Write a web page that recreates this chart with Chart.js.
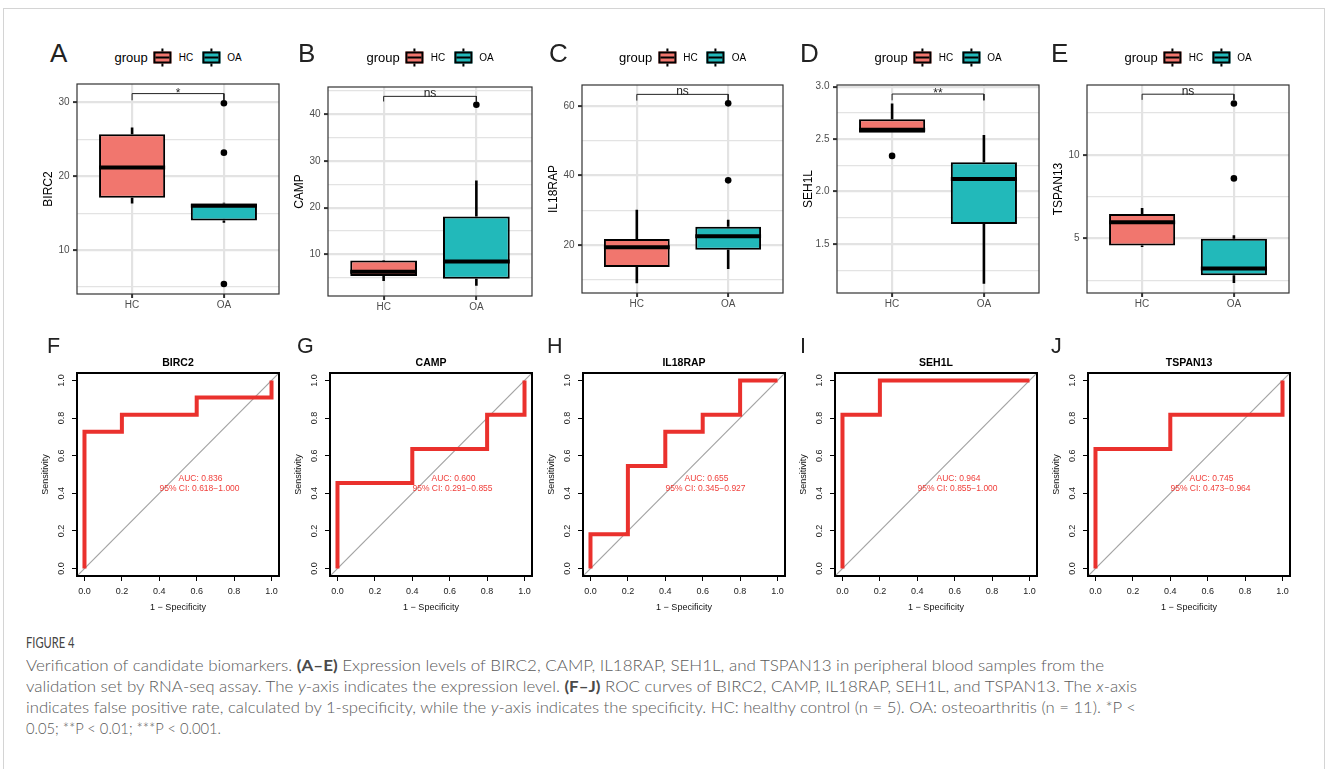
<!DOCTYPE html>
<html>
<head>
<meta charset="utf-8">
<script src="https://cdn.jsdelivr.net/npm/chart.js@4.4.1/dist/chart.umd.min.js"></script>
<style>
html,body{margin:0;padding:0;background:#fff;}
body{width:1328px;height:769px;position:relative;overflow:hidden;font-family:"Liberation Sans",Arial,sans-serif;}
.frame{position:absolute;left:3px;top:8px;width:1322px;height:820px;border:1px solid #d4d4d4;box-sizing:border-box;}
canvas{position:absolute;}
.letter{position:absolute;color:#222;line-height:1;font-family:"Liberation Sans",Arial,sans-serif;}
.legend{position:absolute;display:flex;align-items:center;transform:translate(-50%,-50%);white-space:nowrap;}
.legend .lt{font-size:13px;color:#000;margin-right:6px;}
.legend .ll{font-size:10px;color:#000;}
.key{position:relative;display:inline-block;width:14px;height:8px;border:2px solid #000;}
.key i{position:absolute;left:0;right:0;top:3px;height:2px;background:#000;}
.key:before,.key:after{content:"";position:absolute;left:6px;width:2px;height:3px;background:#000;}
.key:before{top:-5px;}
.key:after{bottom:-5px;}
.cap{position:absolute;left:26px;white-space:nowrap;font-family:Lato,"Open Sans",sans-serif;font-weight:300;color:#5a5a5a;line-height:1;transform-origin:0 0;display:inline-block;}
.cap.head{font-weight:400;color:#444;}
.cap b{font-weight:700;color:#4a4a4a;}
</style>
</head>
<body>
<div class="frame"></div>
<script>
// ---------------- DATA ----------------
const genes = ['BIRC2', 'CAMP', 'IL18RAP', 'SEH1L', 'TSPAN13'];
const groups = ['HC', 'OA'];
const groupPos = [1, 2];
const panelLettersTop = ['A', 'B', 'C', 'D', 'E'];
const panelLettersBottom = ['F', 'G', 'H', 'I', 'J'];

// boxplot stats: [lower whisker, Q1, median, Q3, upper whisker]
const BIRC2_HC = [16.3, 17.1, 21.2, 25.7, 26.6];
const BIRC2_OA = [13.7, 14.0, 16.0, 16.3, 16.4];
const BIRC2_OUT_HC = [];
const BIRC2_OUT_OA = [29.9, 23.2, 5.4];

const CAMP_HC = [4.3, 5.4, 6.3, 8.7, 8.8];
const CAMP_OA = [3.3, 4.8, 8.5, 18.1, 25.8];
const CAMP_OUT_HC = [];
const CAMP_OUT_OA = [42.0];

const IL18RAP_HC = [8.9, 13.6, 19.3, 21.7, 30.1];
const IL18RAP_OA = [13.0, 18.6, 22.5, 25.2, 27.2];
const IL18RAP_OUT_HC = [];
const IL18RAP_OUT_OA = [60.8, 38.6];

const SEH1L_HC = [2.56, 2.56, 2.59, 2.69, 2.84];
const SEH1L_OA = [1.12, 1.69, 2.12, 2.28, 2.54];
const SEH1L_OUT_HC = [2.34];
const SEH1L_OUT_OA = [];

const TSPAN13_HC = [4.49, 4.58, 5.96, 6.46, 6.82];
const TSPAN13_OA = [2.33, 2.79, 3.19, 4.98, 5.18];
const TSPAN13_OUT_HC = [];
const TSPAN13_OUT_OA = [13.07, 8.59];

// significance brackets: [bracket level, HC end, OA end]
const BIRC2_SIG = [31.2, 30.3, 30.3];
const CAMP_SIG = [43.8, 42.7, 42.7];
const IL18RAP_SIG = [63.4, 61.6, 61.6];
const SEH1L_SIG = [2.93, 2.87, 2.87];
const TSPAN13_SIG = [13.63, 13.29, 13.29];
const sigLabels = ['*', 'ns', 'ns', '**', 'ns'];

// y axis ranges and ticks of the boxplots
const BIRC2_YRANGE = [4.05, 32.5];
const CAMP_YRANGE = [1.1, 45.8];
const IL18RAP_YRANGE = [6.1, 66.1];
const SEH1L_YRANGE = [1.033, 3.016];
const TSPAN13_YRANGE = [1.73, 14.18];

const BIRC2_YTICKS = [10, 20, 30];
const CAMP_YTICKS = [10, 20, 30, 40];
const IL18RAP_YTICKS = [20, 40, 60];
const SEH1L_YTICKS = [1.5, 2.0, 2.5, 3.0];
const TSPAN13_YTICKS = [5, 10];

const BIRC2_YLABELS = ['10', '20', '30'];
const CAMP_YLABELS = ['10', '20', '30', '40'];
const IL18RAP_YLABELS = ['20', '40', '60'];
const SEH1L_YLABELS = ['1.5', '2.0', '2.5', '3.0'];
const TSPAN13_YLABELS = ['5', '10'];

const BIRC2_YMINOR = [5, 15, 25];
const CAMP_YMINOR = [5, 15, 25, 35, 45];
const IL18RAP_YMINOR = [10, 30, 50];
const SEH1L_YMINOR = [1.25, 1.75, 2.25, 2.75];
const TSPAN13_YMINOR = [2.5, 7.5, 12.5];

// ROC curves: x = 1 - specificity, y = sensitivity
const BIRC2_FPR = [0, 0, 0.2, 0.2, 0.6, 0.6, 1, 1];
const BIRC2_TPR = [0, 0.727, 0.727, 0.818, 0.818, 0.909, 0.909, 1];
const CAMP_FPR = [0, 0, 0.4, 0.4, 0.8, 0.8, 1, 1];
const CAMP_TPR = [0, 0.455, 0.455, 0.636, 0.636, 0.818, 0.818, 1];
const IL18RAP_FPR = [0, 0, 0.2, 0.2, 0.4, 0.4, 0.6, 0.6, 0.8, 0.8, 1];
const IL18RAP_TPR = [0, 0.182, 0.182, 0.545, 0.545, 0.727, 0.727, 0.818, 0.818, 1, 1];
const SEH1L_FPR = [0, 0, 0.2, 0.2, 1];
const SEH1L_TPR = [0, 0.818, 0.818, 1, 1];
const TSPAN13_FPR = [0, 0, 0.4, 0.4, 1, 1];
const TSPAN13_TPR = [0, 0.636, 0.636, 0.818, 0.818, 1];

const aucValues = ['0.836', '0.600', '0.655', '0.964', '0.745'];
const ciValues = ['0.618\u22121.000', '0.291\u22120.855', '0.345\u22120.927', '0.855\u22121.000', '0.473\u22120.964'];

const ROC_RANGE = [-0.04, 1.04];
const ROC_TICKS = [0, 0.2, 0.4, 0.6, 0.8, 1.0];
const ROC_TICK_LABELS = ['0.0', '0.2', '0.4', '0.6', '0.8', '1.0'];
const BOX_XRANGE = [0.4, 2.6];

// ---------------- STYLE / LAYOUT ----------------
const groupColors = ['#F1766E', '#22B9BA'];
const GRID = '#e3e3e3';
const ROC_RED = '#EA312D';
const BOX_W = 0.72;
const FONT = "'Liberation Sans', Arial, sans-serif";

const boxLayout = [
  {L: 77, T: 84, R: 279, B: 294},
  {L: 328, T: 87, R: 532, B: 296},
  {L: 582, T: 85, R: 783, B: 293},
  {L: 837, T: 85, R: 1039, B: 293},
  {L: 1087, T: 85, R: 1289, B: 293}
];
const rocLayout = [
  {L: 77, R: 279}, {L: 330, R: 532}, {L: 583, R: 785}, {L: 835, R: 1037}, {L: 1088, R: 1290}
];
const ROC_T = 373, ROC_B = 576;
const topLetterX = [50, 298, 549, 800, 1051];
const botLetterX = [47, 297, 547, 800, 1051];

Chart.defaults.font.family = FONT;

const boxData = [
  {hc: BIRC2_HC, oa: BIRC2_OA, outHC: BIRC2_OUT_HC, outOA: BIRC2_OUT_OA, sig: BIRC2_SIG, yr: BIRC2_YRANGE, yt: BIRC2_YTICKS, yl: BIRC2_YLABELS, ym: BIRC2_YMINOR},
  {hc: CAMP_HC, oa: CAMP_OA, outHC: CAMP_OUT_HC, outOA: CAMP_OUT_OA, sig: CAMP_SIG, yr: CAMP_YRANGE, yt: CAMP_YTICKS, yl: CAMP_YLABELS, ym: CAMP_YMINOR},
  {hc: IL18RAP_HC, oa: IL18RAP_OA, outHC: IL18RAP_OUT_HC, outOA: IL18RAP_OUT_OA, sig: IL18RAP_SIG, yr: IL18RAP_YRANGE, yt: IL18RAP_YTICKS, yl: IL18RAP_YLABELS, ym: IL18RAP_YMINOR},
  {hc: SEH1L_HC, oa: SEH1L_OA, outHC: SEH1L_OUT_HC, outOA: SEH1L_OUT_OA, sig: SEH1L_SIG, yr: SEH1L_YRANGE, yt: SEH1L_YTICKS, yl: SEH1L_YLABELS, ym: SEH1L_YMINOR},
  {hc: TSPAN13_HC, oa: TSPAN13_OA, outHC: TSPAN13_OUT_HC, outOA: TSPAN13_OUT_OA, sig: TSPAN13_SIG, yr: TSPAN13_YRANGE, yt: TSPAN13_YTICKS, yl: TSPAN13_YLABELS, ym: TSPAN13_YMINOR}
];
const rocData = [
  {fpr: BIRC2_FPR, tpr: BIRC2_TPR},
  {fpr: CAMP_FPR, tpr: CAMP_TPR},
  {fpr: IL18RAP_FPR, tpr: IL18RAP_TPR},
  {fpr: SEH1L_FPR, tpr: SEH1L_TPR},
  {fpr: TSPAN13_FPR, tpr: TSPAN13_TPR}
];

function addCanvas(left, top, w, h) {
  const cv = document.createElement('canvas');
  cv.width = w; cv.height = h;
  cv.style.left = left + 'px'; cv.style.top = top + 'px';
  cv.style.width = w + 'px'; cv.style.height = h + 'px';
  document.body.appendChild(cv);
  return cv;
}

function addLetter(txt, x, top, size) {
  const d = document.createElement('div');
  d.className = 'letter';
  d.textContent = txt;
  d.style.left = x + 'px'; d.style.top = top + 'px'; d.style.fontSize = size + 'px';
  document.body.appendChild(d);
}

function addLegend(cx, cy) {
  const d = document.createElement('div');
  d.className = 'legend';
  d.style.left = cx + 'px'; d.style.top = cy + 'px';
  let html = '<span class="lt">group</span>';
  groups.forEach((g, i) => {
    html += '<span class="key" style="background:' + groupColors[i] + ';margin-right:7px"><i></i></span>' +
            '<span class="ll" style="margin-right:' + (i === 0 ? 9 : 0) + 'px">' + g + '</span>';
  });
  d.innerHTML = html;
  document.body.appendChild(d);
}

function makeBox(idx) {
  const p = boxData[idx], lay = boxLayout[idx];
  const padL = 52, padT = 14, padR = 8, padB = 26;
  const W = lay.R - lay.L, H = lay.B - lay.T;
  const cv = addCanvas(lay.L - padL, lay.T - padT, W + padL + padR, H + padT + padB);
  const stats = [p.hc, p.oa];
  const half = BOX_W / 2;
  const whisk = [], med = [], outs = [];
  stats.forEach((s, i) => {
    const x = groupPos[i];
    whisk.push({x: x, y: s[3]}, {x: x, y: s[4]}, {x: x, y: null}, {x: x, y: s[1]}, {x: x, y: s[0]}, {x: x, y: null});
    med.push({x: x - half, y: s[2]}, {x: x + half, y: s[2]}, {x: x, y: null});
  });
  p.outHC.forEach(v => outs.push({x: groupPos[0], y: v}));
  p.outOA.forEach(v => outs.push({x: groupPos[1], y: v}));
  const brk = [{x: groupPos[0], y: p.sig[1]}, {x: groupPos[0], y: p.sig[0]}, {x: groupPos[1], y: p.sig[0]}, {x: groupPos[1], y: p.sig[2]}];
  const allTicks = p.yt.map((v, i) => ({value: v, minor: false, lab: p.yl[i]}))
    .concat(p.ym.map(v => ({value: v, minor: true, lab: ''})))
    .sort((a, b) => a.value - b.value);

  new Chart(cv, {
    type: 'bar',
    data: {
      datasets: [
        {type: 'bar', data: stats.map((s, i) => ({x: groupPos[i], y: [s[1], s[3]]})),
         backgroundColor: groupColors, borderColor: '#000', borderWidth: 2, borderSkipped: false,
         barPercentage: BOX_W, categoryPercentage: 1, order: 2},
        {type: 'line', data: whisk, borderColor: '#000', borderWidth: 2.6, pointRadius: 0, spanGaps: false, order: 3, borderCapStyle: 'butt'},
        {type: 'line', data: med, borderColor: '#000', borderWidth: 4, pointRadius: 0, spanGaps: false, order: 1, borderCapStyle: 'butt'},
        {type: 'scatter', data: outs, backgroundColor: '#000', borderWidth: 0, pointRadius: 3.3, order: 0},
        {type: 'line', data: brk, borderColor: '#222', borderWidth: 1, pointRadius: 0, order: 0, borderJoinStyle: 'miter'}
      ]
    },
    options: {
      responsive: false, animation: false, devicePixelRatio: 1, events: [],
      layout: {padding: {left: 0, top: padT, right: padR, bottom: 0}},
      plugins: {legend: {display: false}, tooltip: {enabled: false}},
      scales: {
        x: {
          type: 'linear', min: BOX_XRANGE[0], max: BOX_XRANGE[1], offset: false,
          afterBuildTicks: s => { s.ticks = groupPos.map(v => ({value: v})); },
          afterFit: s => { s.height = padB; },
          ticks: {callback: (v, i) => groups[i], color: '#4d4d4d', font: {size: 10}, padding: 1, autoSkip: false, maxRotation: 0},
          grid: {offset: false, color: GRID, lineWidth: 2.2, tickColor: '#333', tickWidth: 2, tickLength: 4},
          border: {display: false}
        },
        y: {
          type: 'linear', min: p.yr[0], max: p.yr[1], beginAtZero: false,
          afterBuildTicks: s => { s.ticks = allTicks.map(t => ({value: t.value, minor: t.minor, lab: t.lab})); },
          afterFit: s => { s.width = padL; },
          ticks: {callback: (v, i, t) => t[i].lab, color: '#4d4d4d', font: {size: 10}, padding: 3.5, autoSkip: false},
          grid: {
            color: GRID,
            lineWidth: c => (c.tick && c.tick.minor) ? 1.2 : 2.2,
            tickColor: c => (c.tick && c.tick.minor) ? 'rgba(0,0,0,0)' : '#333',
            tickWidth: 2, tickLength: 4
          },
          border: {display: false},
          title: {display: true, text: genes[idx], color: '#000', font: {size: 12}, padding: {top: 16.5, bottom: 0}}
        }
      }
    },
    plugins: [{
      id: 'deco',
      afterDatasetsDraw(chart) {
        const ctx = chart.ctx, xs = chart.scales.x, ys = chart.scales.y;
        ctx.save();
        ctx.fillStyle = '#222';
        ctx.font = '12px ' + FONT;
        ctx.textAlign = 'center';
        ctx.textBaseline = 'alphabetic';
        ctx.fillText(sigLabels[idx], xs.getPixelForValue((groupPos[0] + groupPos[1]) / 2), ys.getPixelForValue(p.sig[0]) + (sigLabels[idx] === 'ns' ? 0.5 : 3));
        ctx.restore();
      },
      afterDraw(chart) {
        const a = chart.chartArea, ctx = chart.ctx;
        ctx.save();
        ctx.strokeStyle = '#333';
        ctx.lineWidth = 1.2;
        ctx.strokeRect(a.left, a.top, a.right - a.left, a.bottom - a.top);
        ctx.restore();
      }
    }]
  });
  addLegend((lay.L + lay.R) / 2, 57);
}

function makeRoc(idx) {
  const p = rocData[idx], lay = rocLayout[idx];
  const padL = 46, padT = 16, padR = 8, padB = 42;
  const W = lay.R - lay.L, H = ROC_B - ROC_T;
  const cv = addCanvas(lay.L - padL, ROC_T - padT, W + padL + padR, H + padT + padB);
  const curve = p.fpr.map((x, i) => ({x: x, y: p.tpr[i]}));
  const diag = [{x: ROC_RANGE[0], y: ROC_RANGE[0]}, {x: ROC_RANGE[1], y: ROC_RANGE[1]}];
  const axisCommon = {
    type: 'linear', min: ROC_RANGE[0], max: ROC_RANGE[1],
    afterBuildTicks: s => { s.ticks = ROC_TICKS.map(v => ({value: v})); },
    grid: {drawOnChartArea: false, drawTicks: true, tickLength: 5, tickColor: '#000', tickWidth: 1},
    border: {display: false}
  };
  new Chart(cv, {
    type: 'scatter',
    data: {
      datasets: [
        {data: diag, showLine: true, borderColor: '#a3a3a3', borderWidth: 1.2, pointRadius: 0, order: 2},
        {data: curve, showLine: true, borderColor: ROC_RED, borderWidth: 4, pointRadius: 0, order: 1, borderJoinStyle: 'miter', borderCapStyle: 'butt'}
      ]
    },
    options: {
      responsive: false, animation: false, devicePixelRatio: 1, events: [],
      layout: {padding: {left: 0, top: padT, right: padR, bottom: 0}},
      plugins: {legend: {display: false}, tooltip: {enabled: false}},
      scales: {
        x: Object.assign({}, axisCommon, {
          afterFit: s => { s.height = padB; },
          ticks: {callback: (v, i) => ROC_TICK_LABELS[i], color: '#222', font: {size: 9}, padding: 5, autoSkip: false, maxRotation: 0},
          title: {display: true, text: '1 \u2212 Specificity', color: '#111', font: {size: 9}, padding: {top: 0, bottom: 5.5}}
        }),
        y: Object.assign({}, axisCommon, {
          afterFit: s => { s.width = padL; },
          ticks: {callback: (v, i) => ROC_TICK_LABELS[i], color: 'rgba(0,0,0,0)', font: {size: 9}, padding: 4, autoSkip: false},
          title: {display: true, text: 'Sensitivity', color: '#111', font: {size: 9}, padding: {top: 9, bottom: 0}}
        })
      }
    },
    plugins: [{
      id: 'rocdeco',
      afterDatasetsDraw(chart) {
        const ctx = chart.ctx, xs = chart.scales.x, ys = chart.scales.y;
        ctx.save();
        ctx.fillStyle = '#F0403C';
        ctx.font = '8.5px ' + FONT;
        ctx.textAlign = 'center';
        ctx.textBaseline = 'middle';
        const tx = xs.getPixelForValue(0.615);
        ctx.fillText('AUC: ' + aucValues[idx], tx + 1, ys.getPixelForValue(0.48));
        ctx.fillText('95% CI: ' + ciValues[idx], tx, ys.getPixelForValue(0.427));
        ctx.restore();
      },
      afterDraw(chart) {
        const ctx = chart.ctx, ys = chart.scales.y, a = chart.chartArea;
        ctx.save();
        ctx.strokeStyle = '#000';
        ctx.lineWidth = 2;
        ctx.strokeRect(a.left, a.top, a.right - a.left, a.bottom - a.top);
        ctx.fillStyle = '#222';
        ctx.font = '9px ' + FONT;
        ctx.textAlign = 'center';
        ctx.textBaseline = 'middle';
        ys.ticks.forEach((t, i) => {
          ctx.save();
          ctx.translate(a.left - 15, ys.getPixelForValue(t.value));
          ctx.rotate(-Math.PI / 2);
          ctx.fillText(ROC_TICK_LABELS[i], 0, 0);
          ctx.restore();
        });
        ctx.fillStyle = '#000';
        ctx.font = 'bold 10.5px ' + FONT;
        ctx.fillText(genes[idx], (a.left + a.right) / 2, a.top - 10);
        ctx.restore();
      }
    }]
  });
}

for (let i = 0; i < genes.length; i++) {
  makeBox(i);
  makeRoc(i);
  addLetter(panelLettersTop[i], topLetterX[i], 40, 26);
  addLetter(panelLettersBottom[i], botLetterX[i], 336, 21.5);
}

// ---------------- CAPTION ----------------
const capLines = [
  {html: 'FIGURE 4', top: 635, size: 15, w: 48.5, head: true},
  {html: 'Verification of candidate biomarkers. <b>(A\u2013E)</b> Expression levels of BIRC2, CAMP, IL18RAP, SEH1L, and TSPAN13 in peripheral blood samples from the', top: 657, size: 16, w: 1078},
  {html: 'validation set by RNA-seq assay. The <i>y</i>-axis indicates the expression level. <b>(F\u2013J)</b> ROC curves of BIRC2, CAMP, IL18RAP, SEH1L, and TSPAN13. The <i>x</i>-axis', top: 678, size: 16, w: 1111},
  {html: 'indicates false positive rate, calculated by 1-specificity, while the <i>y</i>-axis indicates the specificity. HC: healthy control (n = 5). OA: osteoarthritis (n = 11). *P &lt;', top: 699, size: 16, w: 1110},
  {html: '0.05; **P &lt; 0.01; ***P &lt; 0.001.', top: 720, size: 16, w: 195}
];
const capEls = capLines.map(c => {
  const d = document.createElement('div');
  d.className = 'cap' + (c.head ? ' head' : '');
  d.innerHTML = c.html;
  d.style.top = c.top + 'px';
  d.style.fontSize = c.size + 'px';
  document.body.appendChild(d);
  return {el: d, w: c.w};
});
function fitCaption() {
  capEls.forEach(o => {
    o.el.style.transform = 'none';
    const w = o.el.getBoundingClientRect().width;
    if (w > 0) o.el.style.transform = 'scaleX(' + (o.w / w) + ')';
  });
}
fitCaption();
if (document.fonts && document.fonts.ready) document.fonts.ready.then(fitCaption);
</script>
</body>
</html>
